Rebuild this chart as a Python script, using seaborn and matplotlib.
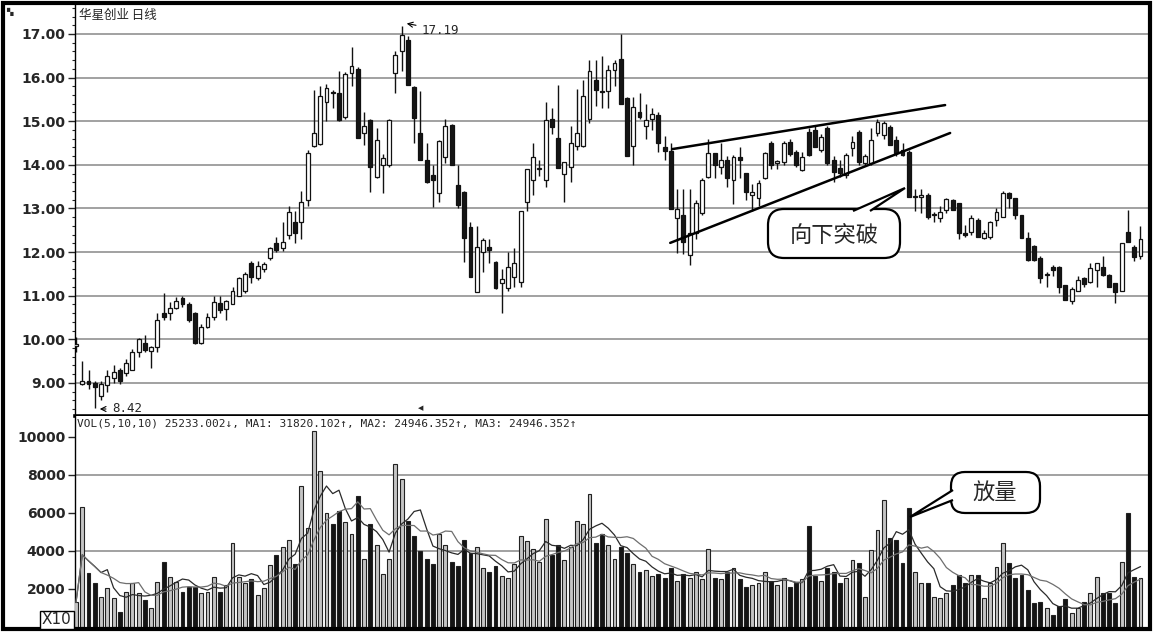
import numpy as np
import pandas as pd
import seaborn as sns
import matplotlib.pyplot as plt
from matplotlib.patches import FancyBboxPatch, Rectangle, Polygon
from matplotlib.ticker import MultipleLocator

# daily candles (index = trading day)
open_p = [9.85, 8.98, 9.05, 9.0, 8.7, 8.95, 9.1, 9.3, 9.22, 9.3,
          9.7, 9.92, 9.72, 9.82, 10.6, 10.6, 10.72, 10.95, 10.8, 10.6,
          9.92, 10.28, 10.5, 10.82, 10.7, 10.8, 11.0, 11.1, 11.75, 11.4,
          11.62, 11.86, 12.2, 12.1, 12.39, 12.69, 12.69, 13.2, 14.43, 14.48,
          15.44, 15.67, 15.65, 15.1, 16.1, 16.2, 14.73, 15.03, 13.72, 14.0,
          14.0, 16.1, 16.6, 16.86, 15.78, 14.73, 14.1, 13.77, 13.35, 14.18,
          14.91, 13.54, 13.38, 12.57, 11.08, 12.0, 12.11, 11.77, 11.29, 11.17,
          11.43, 11.31, 13.15, 13.65, 13.9, 13.65, 15.05, 14.61, 13.79, 13.95,
          14.43, 14.43, 15.05, 15.95, 15.7, 15.7, 16.17, 16.43, 15.53, 14.43,
          15.21, 14.89, 15.05, 15.14, 14.42, 14.32, 12.78, 12.85, 11.93, 12.44,
          12.9, 13.72, 14.27, 13.95, 14.11, 13.65, 14.18, 13.81, 13.31, 13.24,
          13.7, 14.5, 14.05, 14.06, 14.52, 14.3, 13.88, 14.75, 14.8, 14.34,
          14.84, 14.11, 13.93, 13.77, 14.39, 14.75, 14.04, 14.04, 14.73, 14.68,
          14.87, 14.57, 14.34, 14.29, 13.26, 13.26, 13.31, 12.85, 12.78, 12.96,
          13.2, 13.12, 12.44, 12.46, 12.73, 12.32, 12.34, 12.73, 12.8, 13.36,
          13.24, 12.85, 12.32, 12.14, 11.86, 11.47, 11.66, 11.66, 11.24, 10.88,
          11.1, 11.4, 11.31, 11.59, 11.66, 11.47, 11.29, 11.1, 12.46, 12.11,
          11.9]
high_p = [10.05, 9.5, 9.3, 9.05, 9.05, 9.3, 9.4, 9.35, 9.55, 9.78,
          10.02, 10.1, 9.85, 10.6, 11.05, 10.85, 10.98, 11.0, 10.85, 10.62,
          10.35, 10.6, 11.0, 11.0, 10.9, 11.2, 11.42, 11.55, 11.8, 11.8,
          11.78, 12.12, 12.35, 12.68, 13.05, 12.95, 13.4, 14.35, 15.72, 15.8,
          15.85, 15.72, 16.15, 16.12, 16.7, 16.25, 15.2, 15.05, 14.85, 14.25,
          15.05, 16.6, 17.19, 16.95, 15.8, 15.7, 14.5, 14.0, 14.57, 15.05,
          14.93, 14.0, 13.4, 12.7, 12.6, 12.33, 12.3, 11.8, 11.62, 12.0,
          12.1, 12.94, 13.9, 14.5, 14.1, 15.45, 15.3, 15.83, 14.06, 14.9,
          15.73, 15.95, 16.4, 16.4, 16.5, 16.3, 16.4, 17.0, 15.55, 15.55,
          15.65, 15.4, 15.3, 15.2, 14.65, 14.5, 13.45, 13.45, 13.45, 13.2,
          13.7, 14.6, 14.28, 14.5, 14.2, 14.22, 14.4, 13.82, 13.55, 13.65,
          14.3, 14.55, 14.1, 14.55, 14.6, 14.35, 14.3, 14.85, 14.9, 14.7,
          14.9, 14.2, 14.11, 14.27, 14.65, 14.8, 14.25, 14.85, 15.05, 15.0,
          14.92, 14.65, 14.5, 14.33, 13.45, 13.45, 13.35, 12.92, 13.05, 13.25,
          13.22, 13.13, 12.62, 12.85, 12.78, 12.5, 12.72, 13.0, 13.4, 13.37,
          13.25, 12.86, 12.45, 12.15, 11.9, 11.55, 11.7, 11.67, 11.25, 11.2,
          11.45, 11.42, 11.75, 11.75, 11.9, 11.5, 11.3, 12.21, 12.96, 12.15,
          12.6]
low_p = [9.7, 8.95, 8.85, 8.42, 8.6, 8.8, 9.0, 8.98, 9.15, 9.3,
         9.6, 9.7, 9.35, 9.7, 10.45, 10.45, 10.7, 10.75, 10.4, 9.9,
         9.9, 10.25, 10.45, 10.6, 10.45, 10.8, 11.0, 11.05, 11.3, 11.35,
         11.55, 11.82, 12.0, 12.03, 12.3, 12.2, 12.3, 13.05, 14.4, 14.45,
         15.0, 15.3, 15.0, 15.05, 15.8, 14.62, 14.45, 13.38, 13.7, 13.35,
         13.95, 15.65, 16.15, 15.83, 14.5, 14.1, 13.58, 13.03, 13.15, 14.05,
         14.0, 13.0, 11.77, 11.43, 11.08, 11.55, 11.75, 11.15, 10.6, 11.1,
         11.2, 11.2, 12.94, 13.3, 13.75, 13.5, 14.7, 13.93, 13.15, 13.6,
         14.35, 14.4, 14.95, 15.35, 15.3, 15.3, 15.8, 15.4, 14.2, 14.0,
         15.05, 14.6, 14.8, 14.3, 14.1, 12.99, 11.98, 11.95, 11.7, 12.3,
         12.85, 13.7, 13.7, 13.8, 13.5, 13.1, 13.7, 13.2, 12.95, 13.05,
         13.68, 13.9, 13.9, 14.0, 14.2, 13.95, 13.85, 14.2, 14.4, 14.3,
         14.0, 13.6, 13.72, 13.7, 14.2, 14.0, 14.0, 14.0, 14.65, 14.6,
         14.45, 14.2, 14.2, 13.26, 12.95, 12.9, 12.75, 12.7, 12.7, 12.9,
         12.96, 12.3, 12.35, 12.4, 12.34, 12.3, 12.3, 12.6, 12.8, 13.0,
         12.75, 12.32, 11.8, 11.8, 11.3, 11.2, 11.45, 11.05, 10.9, 10.8,
         11.1, 11.2, 11.28, 11.2, 11.45, 11.2, 10.83, 11.1, 12.23, 11.8,
         11.85]
close_p = [9.87, 9.05, 8.98, 8.9, 8.98, 9.15, 9.25, 9.05, 9.45, 9.7,
           10.0, 9.75, 9.82, 10.45, 10.5, 10.72, 10.88, 10.8, 10.45, 9.92,
           10.28, 10.52, 10.85, 10.68, 10.88, 11.1, 11.4, 11.5, 11.42, 11.68,
           11.72, 12.1, 12.05, 12.23, 12.92, 12.44, 13.15, 14.27, 14.73, 15.58,
           15.76, 15.65, 15.03, 16.08, 16.27, 14.62, 14.9, 13.95, 14.57, 14.15,
           15.03, 16.52, 16.98, 15.83, 15.07, 14.1, 13.6, 13.65, 14.55, 14.89,
           14.0, 13.08, 12.32, 11.43, 12.11, 12.28, 12.05, 11.17, 11.38, 11.66,
           11.75, 12.94, 13.9, 14.18, 13.93, 15.03, 14.87, 13.93, 14.06, 14.5,
           14.73, 15.58, 16.15, 15.72, 15.67, 16.17, 16.33, 15.4, 14.2, 15.33,
           15.1, 15.03, 15.17, 14.5, 14.32, 12.99, 12.99, 12.23, 12.44, 13.12,
           13.65, 14.27, 14.0, 14.11, 13.7, 14.18, 14.1, 13.38, 13.38, 13.58,
           14.27, 14.0, 14.05, 14.5, 14.25, 14.0, 14.18, 14.22, 14.41, 14.64,
           14.04, 13.84, 13.81, 14.22, 14.52, 14.06, 14.2, 14.57, 14.98, 14.96,
           14.45, 14.27, 14.22, 13.26, 13.26, 13.31, 12.8, 12.85, 12.92, 13.22,
           12.96, 12.44, 12.39, 12.78, 12.34, 12.44, 12.69, 12.92, 13.36, 13.24,
           12.85, 12.32, 11.82, 11.82, 11.41, 11.47, 11.58, 11.2, 10.9, 11.15,
           11.36, 11.27, 11.63, 11.75, 11.47, 11.2, 11.08, 12.21, 12.23, 11.88,
           12.3]
volume = [1300, 6300, 2840, 2300, 1600, 2050, 1530, 800, 1850, 2300,
          1800, 1400, 1000, 2370, 3400, 2630, 2370, 1850, 2100, 2100,
          1800, 1850, 2630, 1850, 2200, 4400, 2630, 2300, 2500, 1700,
          2050, 3250, 3800, 4200, 4600, 3300, 7400, 5200, 10300, 8200,
          6000, 5400, 6100, 5500, 4900, 6900, 3600, 5400, 4300, 2800,
          3600, 8600, 7800, 5600, 4800, 4000, 3600, 3300, 4900, 4300,
          3400, 3200, 4600, 3900, 4200, 3100, 2900, 3200, 2700, 2600,
          3300, 4800, 4500, 4100, 3400, 5700, 3800, 4300, 3500, 4200,
          5600, 5400, 7000, 4400, 4900, 4300, 3600, 4200, 3900, 3300,
          2900, 3000, 2700, 2800, 2600, 3100, 2400, 2800, 2600, 2900,
          2500, 4100, 2600, 2500, 2900, 3100, 2500, 2100, 2200, 2300,
          2900, 2400, 2200, 2600, 2100, 2300, 2500, 5300, 2700, 2400,
          3100, 2900, 2300, 2600, 3500, 3370, 1580, 4050, 5100, 6680,
          4680, 4580, 3370, 6260, 2900, 2300, 2300, 1580, 1530, 1790,
          2210, 2740, 2300, 2740, 2740, 1530, 2300, 3160, 4420, 3370,
          2580, 2740, 1950, 1260, 1320, 1000, 630, 1110, 1470, 740,
          1000, 1320, 1790, 2630, 1790, 1790, 1260, 3420, 6000, 2630,
          2580]

price_ticks = [9, 10, 11, 12, 13, 14, 15, 16, 17]
vol_ticks = [2000, 4000, 6000, 8000, 10000]
# wedge trend lines (day, price)
upper_x, upper_y = [95.2, 138.8], [14.36, 15.37]
lower_x, lower_y = [94.9, 139.6], [12.21, 14.73]

sns.set_style("white")
plt.rcParams['font.family'] = ['DejaVu Sans', 'Noto Sans CJK SC']

idx = np.arange(len(close_p))
o = np.array(open_p)
c = np.array(close_p)
up = c >= o
df = pd.DataFrame({'day': idx, 'vol': volume, 'dir': np.where(up, 'up', 'down')})
df['ma1'] = df['vol'].rolling(5, min_periods=1).mean()
df['ma2'] = df['vol'].rolling(10, min_periods=1).mean()

W, H = 1158, 634
fig = plt.figure(figsize=(W / 100, H / 100), dpi=100)


def box(l, t, r, b):  # pixel box -> figure fraction
    return [l / W, 1 - b / H, (r - l) / W, (b - t) / H]


ax = fig.add_axes(box(75, 5, 1148, 416))
axv = fig.add_axes(box(75, 416, 1148, 628))

# candles
ax.vlines(idx, low_p, high_p, color='#111', lw=1, zorder=2)
body_lo = np.minimum(o, c)
body_h = np.maximum(np.abs(c - o), 0.03)
ax.bar(idx, body_h, bottom=body_lo, width=0.62,
       color=np.where(up, 'white', '#151515'), edgecolor='#111',
       linewidth=0.9, zorder=3)
ax.plot(upper_x, upper_y, color='black', lw=1.8, zorder=5)
ax.plot(lower_x, lower_y, color='black', lw=1.8, zorder=5)

# volume + moving averages
sns.barplot(data=df, x='day', y='vol', hue='dir',
            palette={'up': '#c4c4c4', 'down': '#141414'}, dodge=False,
            native_scale=True, width=0.62, edgecolor='#222', linewidth=0.8,
            errorbar=None, legend=False, ax=axv, zorder=3)
sns.lineplot(data=df, x='day', y='ma1', color='#2a2a2a', lw=0.9, ax=axv, zorder=4)
sns.lineplot(data=df, x='day', y='ma2', color='#6e6e6e', lw=0.9, ax=axv, zorder=4)

for a in (ax, axv):
    a.set_xlim(-0.16, 171.2)
    a.set_xticks([])
    a.set_xlabel('')
    a.set_ylabel('')
    a.spines['top'].set_visible(False)
    a.spines['right'].set_visible(False)
    a.spines['left'].set_linewidth(1)
    a.spines['left'].set_color('black')

ax.spines['bottom'].set_linewidth(2.6)
ax.spines['bottom'].set_color('black')
axv.spines['bottom'].set_visible(False)

ax.set_ylim(8.24, 17.665)
ax.set_yticks(price_ticks)
ax.set_yticklabels([f'{v:.2f}' for v in price_ticks], fontweight='bold')
ax.yaxis.set_minor_locator(MultipleLocator(0.2))
ax.tick_params(axis='y', which='major', length=5, width=1, labelsize=10, pad=2, left=True)
ax.tick_params(axis='y', which='minor', length=2, width=0.8, left=True)
for v in price_ticks:
    ax.axhline(v, color='#9a9a9a', lw=1.3, zorder=1)

axv.set_ylim(-53, 11105)
axv.set_yticks(vol_ticks)
axv.set_yticklabels([str(v) for v in vol_ticks], fontweight='bold')
axv.tick_params(axis='y', length=5, width=1, labelsize=10, pad=2, left=True)
for v in (4000, 8000):
    axv.axhline(v, color='#9a9a9a', lw=1.3, zorder=1)

# overlay in pixel coordinates for frame and notes
ov = fig.add_axes([0, 0, 1, 1], zorder=10)
ov.set_xlim(0, W)
ov.set_ylim(H, 0)
ov.axis('off')
ov.patch.set_alpha(0)
ov.add_patch(Rectangle((3, 3), 1147, 626, fill=False, lw=3, ec='black'))

ov.text(79, 15, '华星创业 日线', fontsize=9, family=['Noto Sans CJK SC'], va='center')
ov.text(6, 12, '▚', fontsize=6, va='center')
ov.text(77, 424, 'VOL(5,10,10) 25233.002↓, MA1: 31820.102↑, MA2: 24946.352↑, MA3: 24946.352↑',
        fontsize=8, family='DejaVu Sans Mono', va='center')
ov.text(42, 620, 'X10', fontsize=11, va='center',
        bbox=dict(boxstyle='square,pad=0.12', fc='white', ec='black', lw=1))
ov.text(421, 408, '◀', fontsize=5, va='center', ha='center')

ov.annotate('17.19', xy=(404, 23), xytext=(422, 30), fontsize=9, family='DejaVu Sans Mono',
            va='center', arrowprops=dict(arrowstyle='->', lw=0.8, color='black'))
ov.annotate('8.42', xy=(97, 409), xytext=(112, 409), fontsize=9, family='DejaVu Sans Mono',
            va='center', arrowprops=dict(arrowstyle='->', lw=0.8, color='black'))

# callout 向下突破
ov.add_patch(FancyBboxPatch((768, 209), 132, 49, boxstyle='round,pad=0,rounding_size=16',
                            fc='white', ec='black', lw=1.6, zorder=5))
ov.add_patch(Polygon([(853, 211), (905, 188), (870, 211)], closed=False,
                     fc='white', ec='black', lw=1.6, zorder=6))
ov.text(834, 236, '向下突破', fontsize=16, family=['Noto Sans CJK SC'],
        ha='center', va='center', zorder=7)

# callout 放量
ov.add_patch(FancyBboxPatch((951, 472), 89, 41, boxstyle='round,pad=0,rounding_size=14',
                            fc='white', ec='black', lw=1.6, zorder=5))
ov.add_patch(Polygon([(953, 490), (910, 517), (953, 500)], closed=False,
                     fc='white', ec='black', lw=1.6, zorder=6))
ov.text(995, 493, '放量', fontsize=16, family=['Noto Sans CJK SC'],
        ha='center', va='center', zorder=7)

fig.savefig('out.png', dpi=100)
